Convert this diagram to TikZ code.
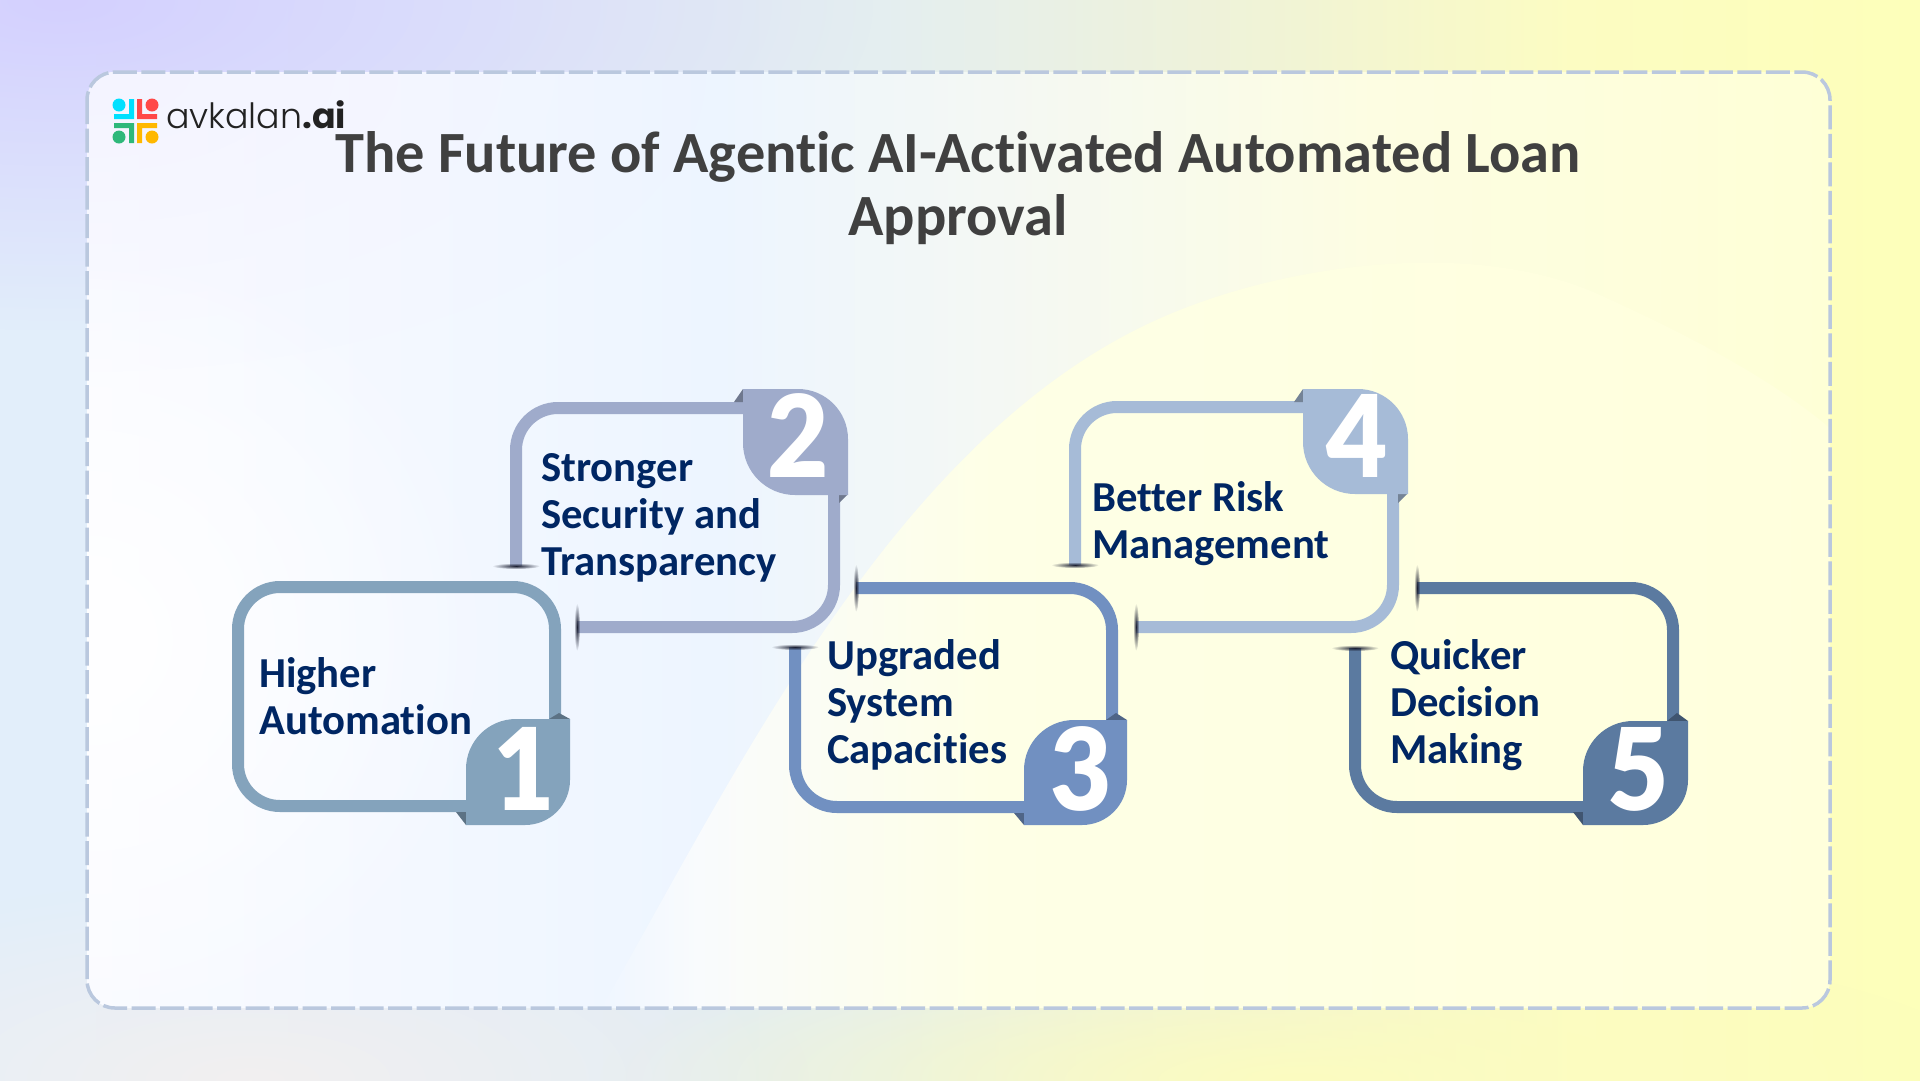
\documentclass[tikz,border=0pt]{standalone}
\usepackage{fontspec}
\usepackage{xcolor}
\usepackage{tikz}
\usetikzlibrary{fadings}
\setmainfont[Ligatures=NoCommon]{Carlito}
\newfontfamily\logofont[UprightFont=* Light, BoldFont=* Bold]{Poppins}
\newfontfamily\numfont[FakeStretch=0.93]{Lato Black}
\definecolor{ringa}{HTML}{84A3BC}
\definecolor{ringb}{HTML}{9FABCB}
\definecolor{ringc}{HTML}{7190C1}
\definecolor{ringd}{HTML}{A6BBD7}
\definecolor{ringe}{HTML}{5B7AA0}
\definecolor{inktext}{HTML}{002663}
\definecolor{inktitle}{HTML}{404040}
\definecolor{inklogo}{HTML}{222222}
\definecolor{edgetan}{HTML}{8E8E74}
\definecolor{capdark}{HTML}{1C2033}
\definecolor{dashline}{HTML}{BAC8DE}
\definecolor{logocyan}{HTML}{00E0FF}
\definecolor{logored}{HTML}{FF4848}
\definecolor{logogreen}{HTML}{2EB87A}
\definecolor{logoyellow}{HTML}{FFB800}
\definecolor{bloblav}{HTML}{D4D0FF}
\definecolor{blobgrey}{HTML}{F2F0F0}
\definecolor{blobpanel}{HTML}{F4F4FF}
\definecolor{blobcream}{HTML}{FCFCC0}
\definecolor{ba}{HTML}{E2EEFA}\definecolor{bb}{HTML}{E2ECF8}\definecolor{bc}{HTML}{E4EEF0}
\definecolor{bd}{HTML}{F0F3D6}\definecolor{be}{HTML}{FCFCC2}\definecolor{bf}{HTML}{FDFFBA}
\definecolor{pa}{HTML}{FAFBFF}\definecolor{pb}{HTML}{EDF5FF}\definecolor{pc}{HTML}{F4F8F4}
\definecolor{pd}{HTML}{FDFDE2}\definecolor{pe}{HTML}{FEFFD6}
\definecolor{ha}{HTML}{EFF6FF}\definecolor{hm}{HTML}{F9FBFD}\definecolor{hb}{HTML}{FEFFE6}\definecolor{hc}{HTML}{FFFFDC}
\pgfdeclarehorizontalshading{backshade}{100bp}{color(0bp)=(ba); color(25bp)=(ba); color(35bp)=(bb); color(48bp)=(bc); color(58bp)=(bd); color(66bp)=(be); color(75bp)=(bf); color(100bp)=(bf)}
\pgfdeclarehorizontalshading{panelshade}{100bp}{color(0bp)=(pa); color(25bp)=(pa); color(43bp)=(pb); color(51bp)=(pc); color(62bp)=(pd); color(75bp)=(pe); color(100bp)=(pe)}
\pgfdeclarehorizontalshading{hillshade}{100bp}{color(0bp)=(ha); color(25bp)=(ha); color(29bp)=(hm); color(41bp)=(hb); color(75bp)=(hc); color(100bp)=(hc)}
\tikzfading[name=softblob, inner color=transparent!0, outer color=transparent!100]
\tikzstyle{ring} = [line width=12pt, rounded corners=42pt, preaction={draw=edgetan, draw opacity=.55, transform canvas={shift={(1.5pt,-1.5pt)}}}]
\tikzstyle{itemtext} = [anchor=base west, align=left, inner sep=0pt, text=inktext, font=\fontsize{42.7}{47}\selectfont\bfseries]
\tikzstyle{numtext} = [anchor=base, inner sep=0pt, text=white, font=\fontsize{114}{114}\numfont]
\tikzstyle{endcap} = [fill=capdark, path fading=softblob]

\begin{document}
\begin{tikzpicture}[x=1pt,y=-1pt]
   \useasboundingbox (0,0) rectangle (1920,1080);
   % background
   \shade [shading=backshade] (0,0) rectangle (1920,1080);
   \begin{scope}
   \clip (0,0) rectangle (1920,1080);
   \fill [bloblav, path fading=softblob] (60,0) ellipse (820pt and 330pt);
   \fill [blobcream, path fading=softblob] (1300,1080) ellipse (700pt and 150pt);
   \fill [blobgrey, path fading=softblob] (250,1080) ellipse (560pt and 200pt);
   \end{scope}
   % panel
   \shade [shading=panelshade, rounded corners=28pt] (87,72) rectangle (1830,1008);
   \begin{scope}
   \clip [rounded corners=28pt] (87,72) rectangle (1830,1008);
   \fill [blobpanel, path fading=softblob] (87,72) ellipse (620pt and 300pt);
   \fill [white, path fading=softblob] (87,640) ellipse (420pt and 420pt);
   \shade [shading=hillshade] (600,1010) .. controls (735,778) and (900,420) .. (1180,310) .. controls (1300,262) and (1480,240) .. (1600,295) .. controls (1700,340) and (1780,385) .. (1832,430) -- (1832,1010) -- cycle;
   \end{scope}
   \draw [dashline, line width=3.5pt, dash pattern=on 24pt off 4.5pt, rounded corners=28pt] (87,72) rectangle (1830,1008);
   % logo
   \fill [logocyan] (119,105) circle (6.5pt);
   \fill [logored] (152,105) circle (6.5pt);
   \fill [logogreen] (119,137) circle (6.5pt);
   \fill [logoyellow] (152,137) circle (6.5pt);
   \fill [logocyan] (129,99) -- (134,99) -- (134,119) -- (114,119) -- (114,114) -- (129,114) -- cycle;
   \fill [logored] (137,99) -- (142,99) -- (142,114) -- (157,114) -- (157,119) -- (137,119) -- cycle;
   \fill [logogreen] (114,123) -- (134,123) -- (134,143) -- (129,143) -- (129,128) -- (114,128) -- cycle;
   \fill [logoyellow] (137,123) -- (157,123) -- (157,128) -- (142,128) -- (142,143) -- (137,143) -- cycle;
   \node (logo) [anchor=base west, inner sep=0pt, text=inklogo, font=\fontsize{34.8}{36}\logofont] at (166,128) {avkalan\textbf{.ai}};
   % title
   \node (title) [anchor=base, align=center, inner sep=0pt, text=inktitle, font=\fontsize{58.4}{63}\selectfont\bfseries] at (958,235) {The Future of Agentic AI-Activated Automated Loan\\Approval};
   % box 1
   \draw [ring, draw=ringa] (555,730) -- (555,587) -- (238,587) -- (238,806) -- (475,806);
   \fill [ringa!70!black] (549,719) -- (559,713) -- (570,719) -- cycle;
   \fill [ringa!70!black] (456,812) -- (466,825) -- (466,812) -- cycle;
   \fill [ringa] (466,825) -- (466,769) arc [start angle=180, end angle=90, radius=50pt] -- (570,719) -- (570,780) arc [start angle=0, end angle=-90, radius=45pt] -- cycle;
   \node (num1) [numtext] at (524,810) {1};
   \node (item1) [itemtext] at (259,734) {Higher\\Automation};
   % box 2
   \draw [ring, draw=ringb] (516,566) -- (516,408) -- (750,408);
   \draw [ring, draw=ringb] (834,490) -- (834,627) -- (577,627);
   \fill [endcap] (516,566) ellipse (24pt and 3pt);
   \fill [endcap] (577,627) ellipse (3pt and 24pt);
   \fill [ringb!70!black] (734,402) -- (743,389) -- (743,402) -- cycle;
   \fill [ringb!70!black] (839,494) -- (839,503) -- (848,494) -- cycle;
   \fill [ringb] (743,389) -- (798,389) arc [start angle=90, end angle=0, radius=50pt] -- (848,495) -- (795,495) arc [start angle=270, end angle=180, radius=52pt] -- cycle;
   \node (num2) [numtext] at (798,477) {2};
   \node (item2) [itemtext] at (541,575) {Stronger\\Security and\\Transparency};
   % box 3
   \draw [ring, draw=ringc] (856,588) -- (1112,588) -- (1112,730);
   \draw [ring, draw=ringc] (795,647) -- (795,807) -- (1035,807);
   \fill [endcap] (795,647) ellipse (24pt and 3pt);
   \fill [endcap] (856,588) ellipse (3pt and 24pt);
   \fill [ringc!70!black] (1106,720) -- (1116,713) -- (1127,720) -- cycle;
   \fill [ringc!70!black] (1014,813) -- (1024,825) -- (1024,813) -- cycle;
   \fill [ringc] (1024,825) -- (1024,770) arc [start angle=180, end angle=90, radius=50pt] -- (1127,720) -- (1127,780) arc [start angle=0, end angle=-90, radius=45pt] -- cycle;
   \node (num3) [numtext] at (1081,810) {3};
   \node (item3) [itemtext] at (827,763) {Upgraded\\System\\Capacities};
   % box 4
   \draw [ring, draw=ringd] (1075,565) -- (1075,407) -- (1310,407);
   \draw [ring, draw=ringd] (1393,490) -- (1393,627) -- (1136,627);
   \fill [endcap] (1075,565) ellipse (24pt and 3pt);
   \fill [endcap] (1136,627) ellipse (3pt and 24pt);
   \fill [ringd!70!black] (1294,402) -- (1303,389) -- (1303,402) -- cycle;
   \fill [ringd!70!black] (1398,494) -- (1398,503) -- (1407,494) -- cycle;
   \fill [ringd] (1303,389) -- (1358,389) arc [start angle=90, end angle=0, radius=50pt] -- (1408,494) -- (1355,494) arc [start angle=270, end angle=180, radius=52pt] -- cycle;
   \node (num4) [numtext] at (1357,477) {4};
   \node (item4) [itemtext] at (1092,558) {Better Risk\\Management};
   % box 5
   \draw [ring, draw=ringe] (1417,588) -- (1673,588) -- (1673,730);
   \draw [ring, draw=ringe] (1355,648) -- (1355,807) -- (1595,807);
   \fill [endcap] (1355,648) ellipse (24pt and 3pt);
   \fill [endcap] (1417,588) ellipse (3pt and 24pt);
   \fill [ringe!70!black] (1667,721) -- (1677,713) -- (1688,721) -- cycle;
   \fill [ringe!70!black] (1573,812) -- (1583,825) -- (1583,812) -- cycle;
   \fill [ringe] (1583,825) -- (1583,771) arc [start angle=180, end angle=90, radius=50pt] -- (1688,721) -- (1688,780) arc [start angle=0, end angle=-90, radius=45pt] -- cycle;
   \node (num5) [numtext] at (1638,810) {5};
   \node (item5) [itemtext] at (1390,763) {Quicker\\Decision\\Making};
\end{tikzpicture}
\end{document}
